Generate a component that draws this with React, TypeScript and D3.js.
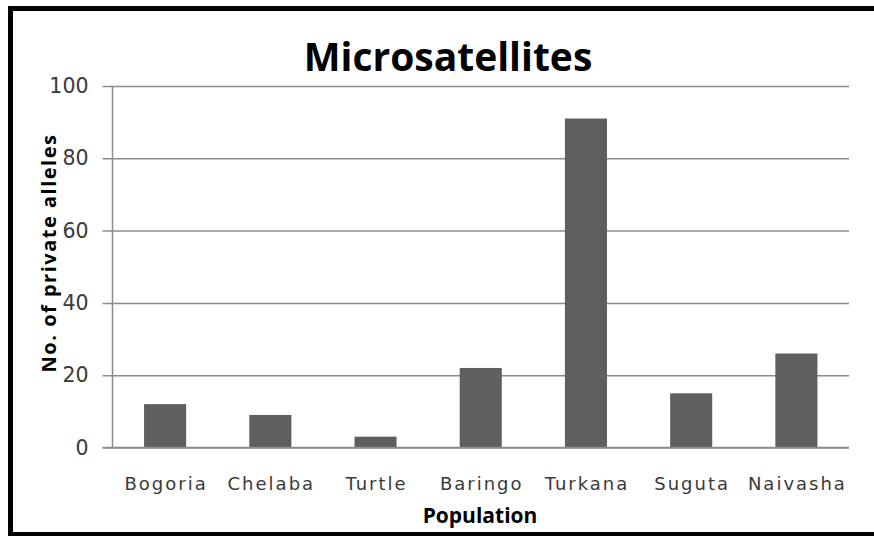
import * as d3 from "d3"
import { useEffect, useRef } from "react"

const populations = ["Bogoria", "Chelaba", "Turtle", "Baringo", "Turkana", "Suguta", "Naivasha"]
const privateAlleles = [12, 9, 3, 22, 91, 15, 26]
const yTicks = [0, 20, 40, 60, 80, 100]

const chartTitle = "Microsatellites"
const xTitle = "Population"
const yTitle = "No. of private alleles"

export default function App() {
    const svgRef = useRef<SVGSVGElement>(null)

    useEffect(() => {
        const width = 874
        const height = 536
        const marginTop = 86
        const marginRight = 25
        const marginBottom = 88.5
        const marginLeft = 112.5

        if (svgRef.current !== null) {
            svgRef.current.innerHTML = ""
        }

        const svg = d3.select(svgRef.current)
            .attr("width", width)
            .attr("height", height)
            .attr("viewBox", [0, 0, width, height])

        const xScale = d3.scaleBand(populations, [marginLeft, width - marginRight])
            .paddingInner(0.6)
            .paddingOuter(0.3)
        const yScale = d3.scaleLinear([0, 100], [height - marginBottom, marginTop])

        svg.append("rect")
            .attr("width", width)
            .attr("height", height)
            .attr("fill", "#fff")

        // outer frame (right edge is cut off in the original)
        svg.append("rect")
            .attr("x", 10.5)
            .attr("y", 8.5)
            .attr("width", 900)
            .attr("height", 526)
            .attr("fill", "none")
            .attr("stroke", "#000")
            .attr("stroke-width", 5)

        svg.append("text")
            .attr("x", 448)
            .attr("y", 71)
            .attr("text-anchor", "middle")
            .attr("font-family", "Open Sans")
            .attr("font-weight", "bold")
            .attr("font-size", 39)
            .attr("fill", "#000")
            .text(chartTitle)

        // grid + y axis
        const yAxis = svg.append("g")
            .attr("transform", `translate(${marginLeft}, 0)`)
            .call(d3.axisLeft(yScale)
                .tickValues(yTicks)
                .tickSize(-(width - marginRight - marginLeft))
                .tickPadding(15)
                .tickSizeOuter(0))
        yAxis.select(".domain").remove()
        yAxis.selectAll(".tick line")
            .attr("x1", -10)
            .attr("stroke", "#8c8c8c")
            .attr("stroke-width", 1.5)
        yAxis.selectAll(".tick text")
            .attr("font-family", "DejaVu Sans")
            .attr("font-size", 20.5)
            .attr("fill", "#3a3a3a")
            .attr("x", -24)

        svg.append("line")
            .attr("x1", marginLeft)
            .attr("x2", marginLeft)
            .attr("y1", yScale(100))
            .attr("y2", yScale(0))
            .attr("stroke", "#8c8c8c")
            .attr("stroke-width", 1.5)

        svg.append("g")
            .attr("fill", "#5e5f5e")
            .selectAll()
            .data(privateAlleles)
            .join("rect")
                .attr("x", (_, i) => xScale(populations[i])!)
                .attr("y", d => yScale(d))
                .attr("width", xScale.bandwidth())
                .attr("height", d => yScale(0) - yScale(d))

        svg.append("line")
            .attr("x1", marginLeft - 10)
            .attr("x2", width - marginRight)
            .attr("y1", yScale(0))
            .attr("y2", yScale(0))
            .attr("stroke", "#8c8c8c")
            .attr("stroke-width", 1.5)

        svg.append("g")
            .selectAll()
            .data(populations)
            .join("text")
                .attr("x", d => xScale(d)! + xScale.bandwidth() / 2 + 1)
                .attr("y", 490)
                .attr("text-anchor", "middle")
                .attr("font-family", "DejaVu Sans")
                .attr("font-size", 18)
                .attr("letter-spacing", 2)
                .attr("fill", "#3a3a3a")
                .text(d => d)

        svg.append("text")
            .attr("x", 480)
            .attr("y", 523)
            .attr("text-anchor", "middle")
            .attr("font-family", "Open Sans")
            .attr("font-weight", "bold")
            .attr("font-size", 21)
            .attr("fill", "#000")
            .text(xTitle)

        svg.append("text")
            .attr("transform", `translate(56, 253) rotate(-90)`)
            .attr("text-anchor", "middle")
            .attr("font-family", "Open Sans")
            .attr("font-weight", "bold")
            .attr("font-size", 20)
            .attr("letter-spacing", 1.5)
            .attr("fill", "#000")
            .text(yTitle)
    }, [])

    return <>
        <svg ref={svgRef} style={{ position: "absolute", left: 0, top: 0, display: "block" }}></svg>
    </>
}
